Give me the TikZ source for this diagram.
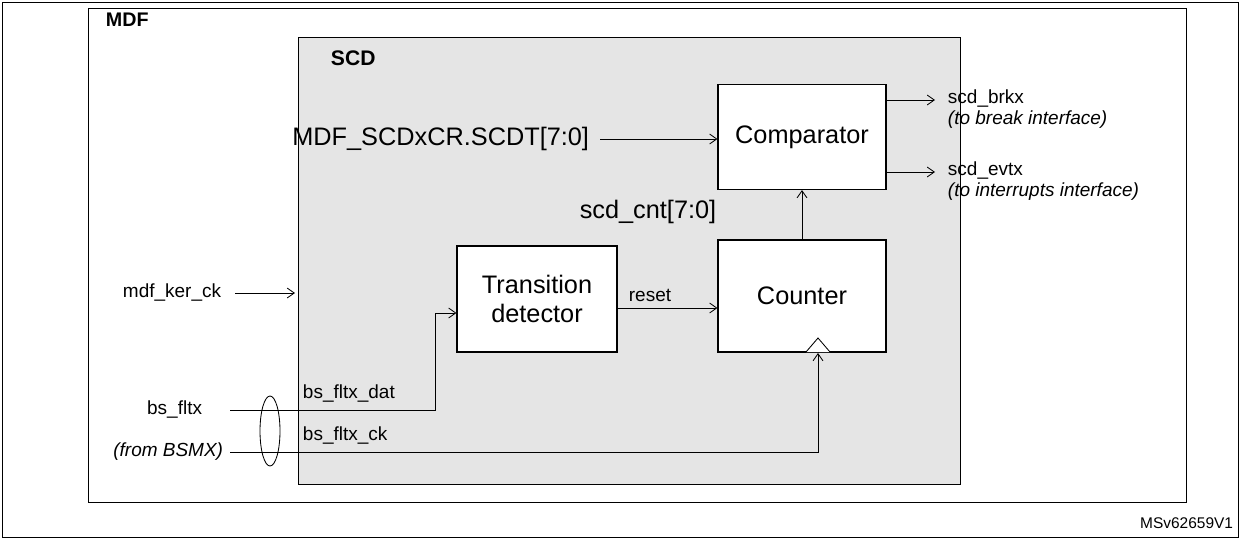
\documentclass[tikz,border=0pt]{standalone}
\usepackage{fontspec}
\setmainfont{Liberation Sans}
\usetikzlibrary{arrows.meta}
\begin{document}
\begin{tikzpicture}[x=0.025cm,y=-0.025cm,
  box/.style={draw,line width=0.8pt,fill=white},
  arr/.style={-{Straight Barb[length=5pt,width=7pt]},line width=0.6pt},
  big/.style={font=\fontsize{18}{21}\selectfont},
  sm/.style={font=\fontsize{13.5}{16}\selectfont},
  it/.style={font=\fontsize{13.5}{16}\selectfont\itshape}]
\useasboundingbox (0,0) rectangle (1240,539);
\draw[line width=0.6pt] (2,2) rectangle (1238,537);
\draw[line width=0.6pt] (88,8) rectangle (1186,502);
\node[font=\fontsize{14}{16}\selectfont\bfseries,anchor=west] (mdf) at (101,20) {MDF};
\draw[line width=0.6pt,fill=black!10] (298,37) rectangle (960,484);
\node[font=\fontsize{15}{17}\selectfont\bfseries,anchor=west] (scd) at (326,58) {SCD};
\node[box,minimum width=168*0.025cm,minimum height=105*0.025cm,big] (cmp) at (802,137) {Comparator};
\node[box,minimum width=168*0.025cm,minimum height=112*0.025cm,big] (cnt) at (802,296) {Counter};
\node[box,minimum width=160*0.025cm,minimum height=106*0.025cm,big,align=center] (td) at (537,299) {Transition\\detector};
\draw[line width=0.6pt,fill=white] (806,352) -- (818,338) -- (830,352);
\node[big,anchor=east] (scdt) at (594,139) {MDF\_SCDxCR.SCDT[7:0]};
\draw[arr] (scdt.east) ++(6,0) coordinate (s0) -- (s0 -| cmp.west);
\node[big] (cntl) at (648,212) {scd\_cnt[7:0]};
\draw[arr] (cnt.north) -- (cmp.south);
\coordinate (o1) at (935,100); \coordinate (o2) at (935,172);
\draw[arr] (o1 -| cmp.east) -- (o1);
\draw[arr] (o2 -| cmp.east) -- (o2);
\node[sm,anchor=west] (b1) at (943,99) {scd\_brkx};
\node[it,anchor=west] (b2) at (943,120) {(to break interface)};
\node[sm,anchor=west] (e1) at (943,171) {scd\_evtx};
\node[it,anchor=west] (e2) at (943,192) {(to interrupts interface)};
\node[sm,anchor=west] (ker) at (118,293) {mdf\_ker\_ck};
\coordinate (k1) at (235,293); \coordinate (k2) at (295,293);
\draw[arr] (k1) -- (k2);
\draw[arr] (td.east |- 0,308) coordinate (r0) -- (r0 -| cnt.west);
\node[sm] (rst) at (650,295) {reset};
\node[sm,anchor=east] (bs) at (207,410) {bs\_fltx};
\node[it,anchor=east] (bsm) at (228,452) {(from BSMX)};
\coordinate (d0) at (230,410); \coordinate (d1) at (435,410); \coordinate (d2) at (435,313);
\draw[arr] (d0) -- (d1) -- (d2) -- (d2 -| td.west);
\node[sm,anchor=west] (dl) at (298,394) {bs\_fltx\_dat};
\coordinate (c0) at (230,452); \coordinate (c1) at (818,452);
\draw[arr] (c0) -- (c1) -- (818,353);
\node[sm,anchor=west] (cl) at (298,436) {bs\_fltx\_ck};
\draw[line width=0.6pt] (270,431) ellipse [x radius=10,y radius=35];
\node[font=\fontsize{11}{13}\selectfont,anchor=east] (ms) at (1238,523) {MSv62659V1};
\end{tikzpicture}
\end{document}
